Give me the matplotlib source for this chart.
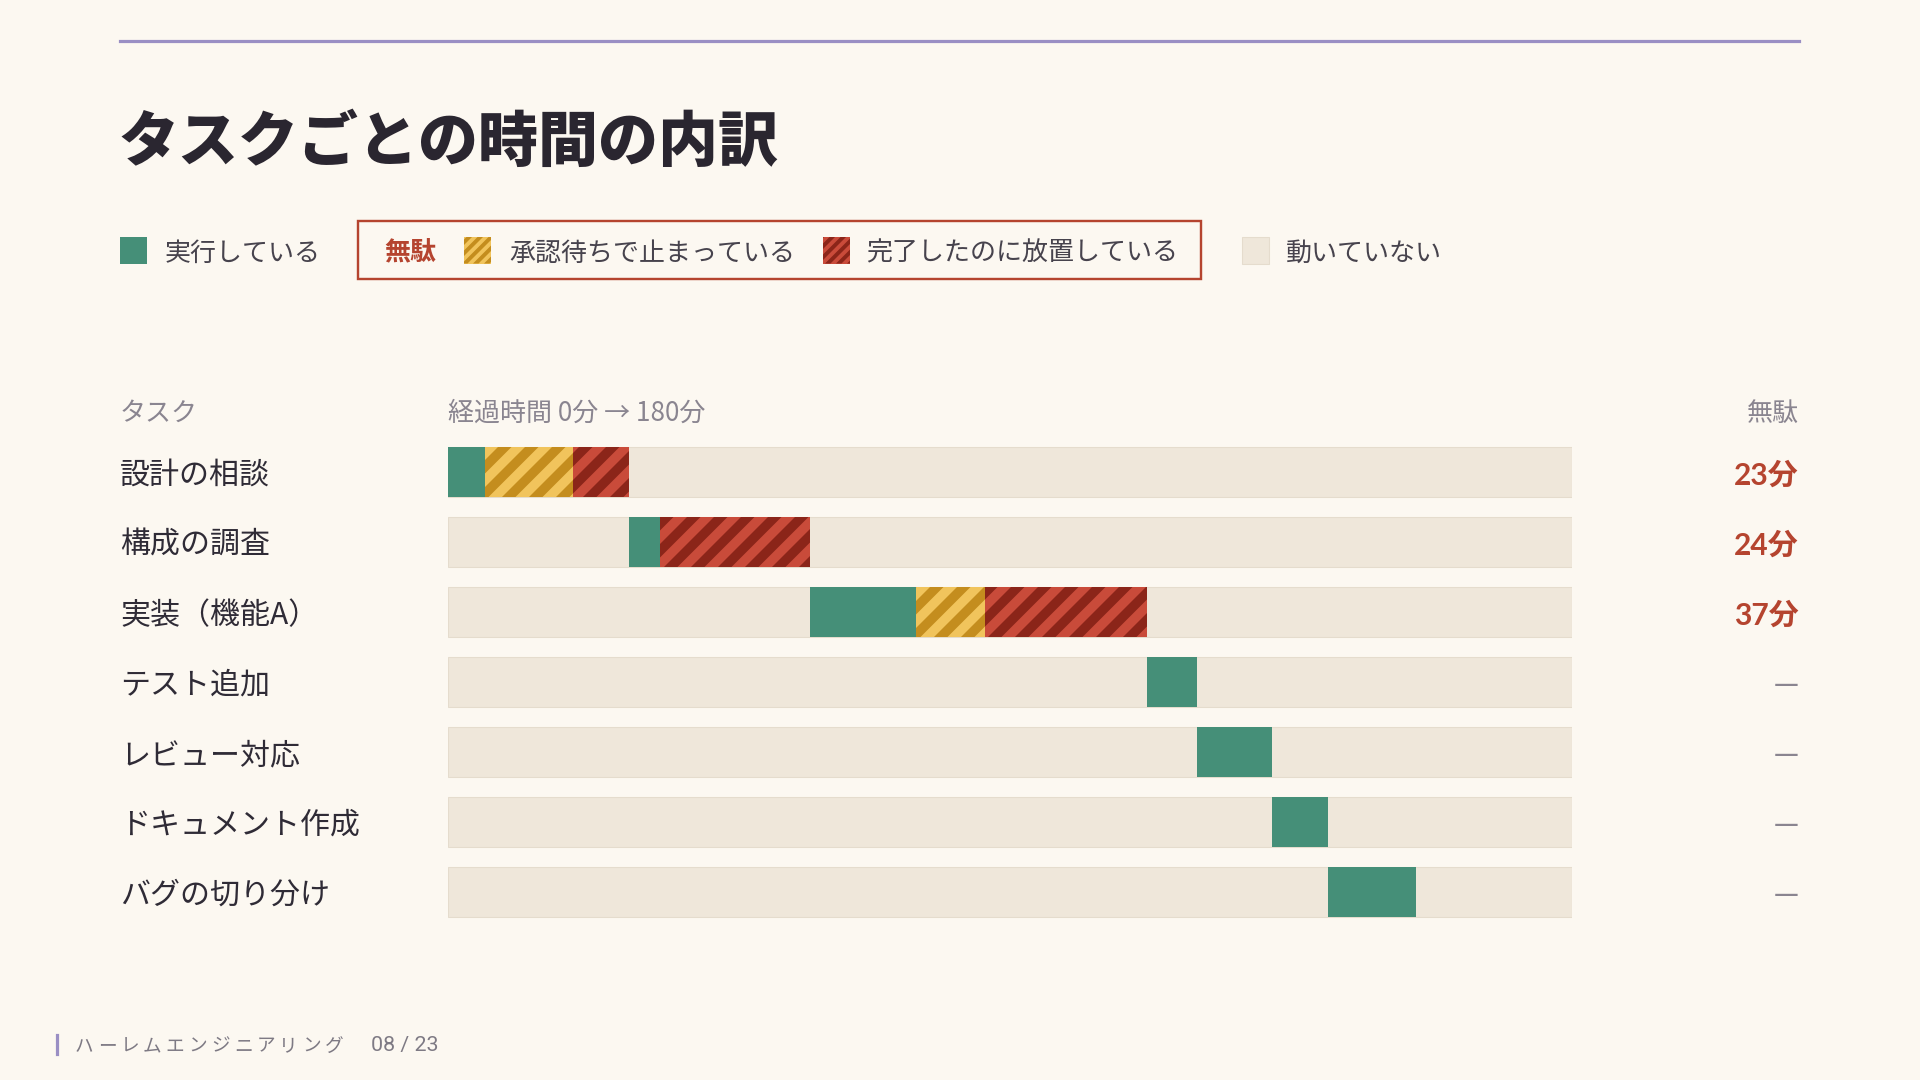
import math
import matplotlib
matplotlib.use("Agg")
import matplotlib.pyplot as plt
import matplotlib.transforms as mtransforms
from matplotlib.patches import Rectangle
from matplotlib.lines import Line2D
from matplotlib.collections import PolyCollection

# ---------------- data ----------------
title = "タスクごとの時間の内訳"
tasks = ["設計の相談", "構成の調査", "実装（機能A）", "テスト追加",
         "レビュー対応", "ドキュメント作成", "バグの切り分け"]
run_start = [0, 29, 58, 112, 120, 132, 141]   # minutes
run_min = [6, 5, 17, 8, 12, 9, 14]
wait_min = [14, 0, 11, 0, 0, 0, 0]            # 承認待ちで止まっている
idle_done_min = [9, 24, 26, 0, 0, 0, 0]       # 完了したのに放置している
total_min = 180

legend_run = "実行している"
legend_waste = "無駄"
legend_wait = "承認待ちで止まっている"
legend_idle_done = "完了したのに放置している"
legend_idle = "動いていない"
hdr_task = "タスク"
hdr_time = "経過時間 0分 → 180分"
hdr_waste = "無駄"
footer_name = "ハーレムエンジニアリング"
footer_page = "08 / 23"

# ---------------- style ----------------
BG = "#fcf8f1"
TRACK = "#efe7da"
TRACK_EDGE = "#e5dccd"
GREEN = "#458f78"
Y_LIGHT, Y_DARK = "#f1c45c", "#c48d1e"
R_LIGHT, R_DARK = "#c94b3a", "#8b2519"
RED_TXT = "#b5442f"
DARK = "#2f2b36"
LEG_TXT = "#47434d"
GRAY = "#8a8590"
PURPLE = "#9a8fc4"

W, H, DPI = 1920, 1080, 96
plt.rcParams["font.family"] = ["Noto Sans CJK JP", "DejaVu Sans"]

fig = plt.figure(figsize=(W / DPI, H / DPI), dpi=DPI, facecolor=BG)


def fx(x):
    return x / W


def fy(y):
    return 1 - y / H


# pixel transform (x from left, y from top)
PIX = mtransforms.Affine2D().scale(1, -1).translate(0, H)

BAR_STRIPE_PX = 27.0
LEG_STRIPE_PX = 11.0


def add_stripes(container, left, width, y_vis_bottom, y_vis_top, period,
                shift, color, transform, is_axes):
    """Draw 45-degree dark stripes clipped to a rectangle."""
    if width <= 0:
        return
    ylo, yhi = min(y_vis_bottom, y_vis_top), max(y_vis_bottom, y_vis_top)
    clip = Rectangle((left, ylo), width, yhi - ylo, transform=transform)
    polys = []
    k0 = math.floor((left - shift) / period) - 1
    k1 = math.ceil((left + width) / period) + 1
    for k in range(k0, k1 + 1):
        x0 = k * period
        polys.append([(x0, y_vis_bottom), (x0 + period / 2, y_vis_bottom),
                      (x0 + period / 2 + shift, y_vis_top),
                      (x0 + shift, y_vis_top)])
    pc = PolyCollection(polys, facecolors=color, edgecolors="none",
                        transform=transform, zorder=3)
    if is_axes:
        container.add_collection(pc, autolim=False)
    else:
        fig.add_artist(pc)
    pc.set_clip_path(clip)


# top rule
fig.add_artist(Line2D([fx(120), fx(1799)], [fy(41), fy(41)], color=PURPLE,
                      lw=2.4, transform=fig.transFigure))

# title
fig.text(fx(118), fy(143), title, fontsize=45, fontweight="black",
         color="#2a2630", va="center", ha="left")

# legend
LY = 250
TY = LY + 3
SQ = 27
LFS = 19.5


def legend_square(x, face, stripe=None):
    fig.add_artist(Rectangle((x, LY - SQ / 2), SQ, SQ, transform=PIX,
                             facecolor=face, lw=0))
    if stripe is not None:
        add_stripes(fig, x, SQ, LY + SQ / 2, LY - SQ / 2, LEG_STRIPE_PX,
                    SQ, stripe, PIX, False)


legend_square(120, GREEN)
fig.text(fx(165), fy(TY), legend_run, fontsize=LFS, color=LEG_TXT, va="center")

fig.add_artist(Rectangle((fx(358), fy(279)), (1201 - 358) / W, (279 - 221) / H,
                         fill=False, edgecolor=RED_TXT, lw=1.8,
                         transform=fig.transFigure))
fig.text(fx(384), fy(TY), legend_waste, fontsize=LFS, fontweight="bold",
         color=RED_TXT, va="center")
legend_square(464, Y_LIGHT, Y_DARK)
fig.text(fx(509), fy(TY), legend_wait, fontsize=LFS, color=LEG_TXT, va="center")
legend_square(823, R_LIGHT, R_DARK)
fig.text(fx(866), fy(TY), legend_idle_done, fontsize=LFS, color=LEG_TXT, va="center")
fig.add_artist(Rectangle((1242, LY - SQ / 2), SQ, SQ, transform=PIX,
                         facecolor=TRACK, edgecolor=TRACK_EDGE, lw=0.8))
fig.text(fx(1286), fy(TY), legend_idle, fontsize=LFS, color=LEG_TXT, va="center")

# headers
HY = 413
fig.text(fx(120), fy(HY), hdr_task, fontsize=19.5, color=GRAY, va="center")
fig.text(fx(448), fy(HY), hdr_time, fontsize=19.5, color=GRAY, va="center")
fig.text(fx(1799), fy(HY), hdr_waste, fontsize=19.5, color=GRAY, va="center",
         ha="right")

# chart axes
n = len(tasks)
AX_L, AX_W = 448, 1124
ROW_PX = 70
BAR_PX = 50
ax = fig.add_axes([fx(AX_L), fy(437 + n * ROW_PX), AX_W / W, n * ROW_PX / H])
ax.set_xlim(0, total_min)
ax.set_ylim(n - 0.5, -0.5)
ax.axis("off")
ax.set_facecolor("none")

min_per_px = total_min / AX_W
period_min = BAR_STRIPE_PX * min_per_px
shift_min = BAR_PX * min_per_px          # 45 degrees in pixel space

ys = list(range(n))
bh = BAR_PX / ROW_PX
ax.barh(ys, [total_min] * n, left=0, height=bh, color=TRACK,
        edgecolor=TRACK_EDGE, lw=0.8, zorder=1)
ax.barh(ys, run_min, left=run_start, height=bh, color=GREEN, lw=0, zorder=2)
wait_left = [s + r for s, r in zip(run_start, run_min)]
ax.barh(ys, wait_min, left=wait_left, height=bh, color=Y_LIGHT, lw=0, zorder=2)
idle_left = [w + m for w, m in zip(wait_left, wait_min)]
ax.barh(ys, idle_done_min, left=idle_left, height=bh, color=R_LIGHT, lw=0,
        zorder=2)
for i in ys:
    add_stripes(ax, wait_left[i], wait_min[i], i + bh / 2, i - bh / 2,
                period_min, shift_min, Y_DARK, ax.transData, True)
    add_stripes(ax, idle_left[i], idle_done_min[i], i + bh / 2, i - bh / 2,
                period_min, shift_min, R_DARK, ax.transData, True)

blend = mtransforms.blended_transform_factory(fig.transFigure, ax.transData)
text_dy = 0.05
for i, name in enumerate(tasks):
    ax.text(fx(120), i + text_dy, name, transform=blend, fontsize=22.5,
            color=DARK, va="center", ha="left")
    waste = wait_min[i] + idle_done_min[i]
    if waste > 0:
        ax.text(fx(1799), i + text_dy, f"{waste}分", transform=blend,
                fontsize=22.5, fontweight="bold", color=RED_TXT,
                va="center", ha="right", family=["Lato", "Noto Sans CJK JP"])
    else:
        ax.text(fx(1799), i + text_dy, "—", transform=blend, fontsize=21,
                color=GRAY, va="center", ha="right")

# footer
fig.add_artist(Line2D([fx(57), fx(57)], [fy(1035), fy(1054)], color=PURPLE,
                      lw=2.4, transform=fig.transFigure))
step = 22.7
for k, ch in enumerate(footer_name):
    fig.text(fx(75 + k * step), fy(1046), ch, fontsize=14, color="#7e7a84",
             va="center", ha="left")
fig.text(fx(371), fy(1046), footer_page, fontsize=16, color="#7e7a84",
         va="center", ha="left", family=["Roboto", "DejaVu Sans"])

fig.savefig("out.png", dpi=DPI, facecolor=BG)
